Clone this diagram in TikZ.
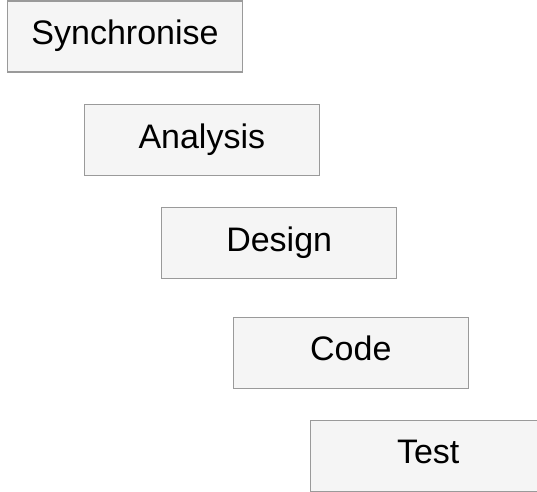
\documentclass[tikz,border=0pt]{standalone}
\usepackage{fontspec}
\setmainfont{Liberation Sans}
\definecolor{boxfill}{HTML}{F5F5F5}
\definecolor{boxline}{HTML}{9A9A9A}
\begin{document}
\begin{tikzpicture}[x=1pt,y=-1pt,
  phasebox/.style={draw=boxline, fill=boxfill, line width=1.3pt, rectangle,
    minimum width=235pt, minimum height=71pt, inner sep=0pt,
    text height=24pt, text depth=8.5pt,
    font=\fontsize{34}{40}\selectfont}]
\useasboundingbox (0,0) rectangle (537,491);
\clip (0,0) rectangle (537,491);
\fill[white] (0,0) rectangle (537,491);
\node[phasebox] (sync) at (125,36.5) {Synchronise};
\node[phasebox] (ana) at (201.8,140.3) {Analysis};
\node[phasebox] (des) at (279.2,243.3) {Design};
\node[phasebox] (code) at (350.8,352.7) {Code};
\node[phasebox] (test) at (428.2,456) {Test};
\end{tikzpicture}
\end{document}
